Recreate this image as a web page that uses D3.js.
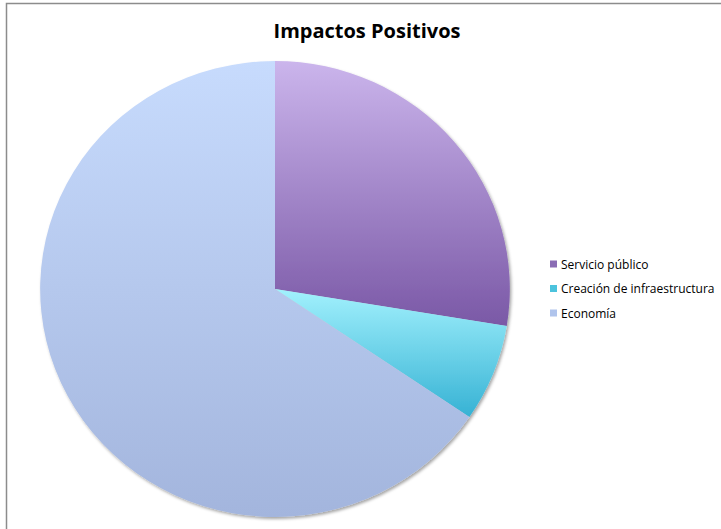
<!DOCTYPE html>
<html>
<head>
<meta charset="utf-8">
<script src="https://cdn.jsdelivr.net/npm/d3@7"></script>
<style>
  body { margin: 0; background: #fff; }
  svg { display: block; }
</style>
</head>
<body>
<script>
const W = 721, H = 529;

// chart data
const categories = ["Servicio público", "Creación de infraestructura", "Economía"];
const values = [8, 2, 19];
const topColors = ["#cbb5ec", "#a2f1fd", "#c7dbfd"];
const bottomColors = ["#7a58a6", "#36b2d4", "#a3b5dd"];
const swatchColors = ["#8a6cb4", "#4cc3dd", "#b0c4ec"];

const svg = d3.select("body").append("svg")
  .attr("width", W)
  .attr("height", H)
  .style("font-family", "'Open Sans', 'Liberation Sans', sans-serif");

// chart area border (runs off the page at right and bottom)
svg.append("rect")
  .attr("x", 6.5).attr("y", 3.5)
  .attr("width", W + 20).attr("height", H + 20)
  .attr("fill", "#fff")
  .attr("stroke", "#8c8c8c")
  .attr("stroke-width", 1.5);

const defs = svg.append("defs");

categories.forEach(function(c, i) {
  const g = defs.append("linearGradient")
    .attr("id", "grad" + i)
    .attr("x1", 0).attr("y1", 0)
    .attr("x2", 0).attr("y2", 1);
  g.append("stop").attr("offset", "0%").attr("stop-color", topColors[i]);
  g.append("stop").attr("offset", "100%").attr("stop-color", bottomColors[i]);
});

const shadow = defs.append("filter")
  .attr("id", "shadow")
  .attr("x", "-10%").attr("y", "-10%")
  .attr("width", "120%").attr("height", "120%");
shadow.append("feDropShadow")
  .attr("dx", 1.5).attr("dy", 2)
  .attr("stdDeviation", 1.5)
  .attr("flood-color", "#000")
  .attr("flood-opacity", 0.35);

// title
svg.append("text")
  .attr("x", 367)
  .attr("y", 38)
  .attr("text-anchor", "middle")
  .style("font-size", "20px")
  .style("font-weight", "bold")
  .attr("fill", "#000")
  .text("Impactos Positivos");

// pie (slightly wider than tall, like the original)
const R = 228;
const pie = d3.pie().sort(null).value(function(d) { return d; });
const arc = d3.arc().innerRadius(0).outerRadius(R);

const pieG = svg.append("g")
  .attr("transform", "translate(275,289) scale(1.03,1)")
  .attr("filter", "url(#shadow)");

pieG.selectAll("path")
  .data(pie(values))
  .enter()
  .append("path")
  .attr("d", arc)
  .attr("fill", function(d, i) { return "url(#grad" + i + ")"; });

// legend
const legend = svg.append("g")
  .attr("transform", "translate(550,264)");

const rows = legend.selectAll("g")
  .data(categories)
  .enter()
  .append("g")
  .attr("transform", function(d, i) { return "translate(0," + i * 24.5 + ")"; });

rows.append("rect")
  .attr("x", 0).attr("y", -3.5)
  .attr("width", 7).attr("height", 7)
  .attr("fill", function(d, i) { return swatchColors[i]; });

rows.append("text")
  .attr("x", 11)
  .attr("y", 4.5)
  .style("font-size", "12px")
  .attr("fill", "#000")
  .text(function(d) { return d; });
</script>
</body>
</html>
